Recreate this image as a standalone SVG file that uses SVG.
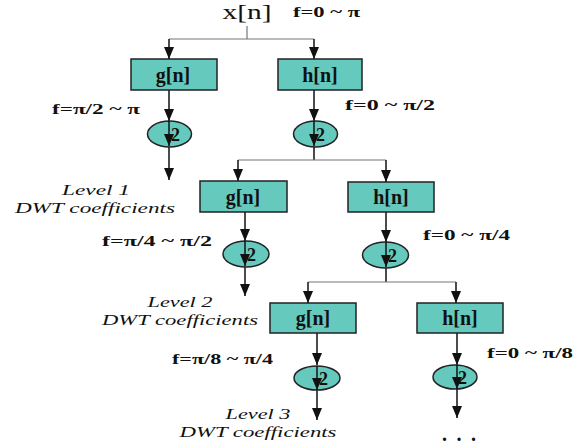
<svg xmlns="http://www.w3.org/2000/svg" width="579" height="446" viewBox="0 0 579 446">
<style>
text{font-family:"Liberation Serif","DejaVu Serif","Times New Roman",serif;fill:#111}
.box{fill:#66C9BE;stroke:#222;stroke-width:1.5}
.ds{fill:#66C9BE;stroke:#222;stroke-width:1.5}
.bt{font-weight:bold;font-size:20px;text-anchor:middle}
.f{font-weight:bold;font-size:14px}
.lv{font-style:italic;font-size:15px;text-anchor:middle}
.two{font-weight:bold;font-size:18px}
.c{fill:none;stroke:#111;stroke-width:1.5}
.h{fill:none;stroke:#777;stroke-width:1.2}
</style>
<defs>
<marker id="a" viewBox="0 0 12 10" refX="12" refY="5" markerWidth="12" markerHeight="10" markerUnits="userSpaceOnUse" orient="auto">
<path d="M0,0 L12,5 L0,10 z" fill="#111"/>
</marker>
</defs>
<rect width="579" height="446" fill="#fff"/>
<g id="connectors">
<path class="h" d="M247,26 V39 M169,39 H314"/>
<path class="c" d="M169,39 V59" marker-end="url(#a)"/>
<path class="c" d="M314,39 V59" marker-end="url(#a)"/>
<path class="c" d="M169,90 V121" marker-end="url(#a)"/>
<path class="c" d="M169,147 V180" marker-end="url(#a)"/>
<path class="c" d="M314,90 V121" marker-end="url(#a)"/>
<path class="c" d="M314,147 V160"/>
<path class="h" d="M238,160 H386"/>
<path class="c" d="M238,160 V181" marker-end="url(#a)"/>
<path class="c" d="M386,160 V182" marker-end="url(#a)"/>
<path class="c" d="M245,212 V241" marker-end="url(#a)"/>
<path class="c" d="M245,267 V296" marker-end="url(#a)"/>
<path class="c" d="M386,212 V242" marker-end="url(#a)"/>
<path class="c" d="M386,268 V282"/>
<path class="h" d="M308,282 H456"/>
<path class="c" d="M308,282 V303" marker-end="url(#a)"/>
<path class="c" d="M456,282 V303" marker-end="url(#a)"/>
<path class="c" d="M317,333 V365" marker-end="url(#a)"/>
<path class="c" d="M317,389 V420" marker-end="url(#a)"/>
<path class="c" d="M457,333 V365" marker-end="url(#a)"/>
<path class="c" d="M457,389 V418" marker-end="url(#a)"/>
</g>
<g id="input">
<text x="247" y="19" font-size="21" text-anchor="middle" textLength="49" lengthAdjust="spacingAndGlyphs">x[n]</text>
<text class="f" x="293" y="17" textLength="67" lengthAdjust="spacingAndGlyphs">f=0 ~ π</text>
</g>
<g id="g1">
<rect class="box" x="131" y="59" width="86" height="31"/>
<text class="bt" x="173" y="82">g[n]</text>
</g>
<g id="h1">
<rect class="box" x="278" y="59" width="84" height="31"/>
<text class="bt" x="320" y="82">h[n]</text>
</g>
<g id="ds1g">
<ellipse class="ds" cx="169.5" cy="134" rx="22" ry="13"/>
<path class="c" d="M169,121 V146" marker-end="url(#a)"/>
<text class="two" x="171" y="141">2</text>
</g>
<g id="ds1h">
<ellipse class="ds" cx="315.5" cy="134" rx="22" ry="13"/>
<path class="c" d="M314,121 V146" marker-end="url(#a)"/>
<text class="two" x="316" y="141">2</text>
</g>
<text class="f" x="52" y="114" textLength="88" lengthAdjust="spacingAndGlyphs">f=π/2 ~ π</text>
<text class="f" x="345" y="110" textLength="90" lengthAdjust="spacingAndGlyphs">f=0 ~ π/2</text>
<g id="level1">
<text class="lv" x="96" y="195" textLength="68" lengthAdjust="spacingAndGlyphs">Level 1</text>
<text class="lv" x="95" y="213" textLength="160" lengthAdjust="spacingAndGlyphs">DWT coefficients</text>
</g>
<g id="g2">
<rect class="box" x="200" y="181" width="87" height="31"/>
<text class="bt" x="243" y="204">g[n]</text>
</g>
<g id="h2">
<rect class="box" x="348" y="182" width="86" height="30"/>
<text class="bt" x="391" y="204">h[n]</text>
</g>
<g id="ds2g">
<ellipse class="ds" cx="246" cy="254" rx="23" ry="13"/>
<path class="c" d="M245,241 V266" marker-end="url(#a)"/>
<text class="two" x="247" y="261">2</text>
</g>
<g id="ds2h">
<ellipse class="ds" cx="385.5" cy="255" rx="23" ry="13"/>
<path class="c" d="M386,242 V267" marker-end="url(#a)"/>
<text class="two" x="388" y="262">2</text>
</g>
<text class="f" x="102" y="246" textLength="110" lengthAdjust="spacingAndGlyphs">f=π/4 ~ π/2</text>
<text class="f" x="423" y="240" textLength="87" lengthAdjust="spacingAndGlyphs">f=0 ~ π/4</text>
<g id="level2">
<text class="lv" x="180" y="307" textLength="65" lengthAdjust="spacingAndGlyphs">Level 2</text>
<text class="lv" x="180" y="325" textLength="156" lengthAdjust="spacingAndGlyphs">DWT coefficients</text>
</g>
<g id="g3">
<rect class="box" x="270" y="303" width="86" height="30"/>
<text class="bt" x="313" y="325">g[n]</text>
</g>
<g id="h3">
<rect class="box" x="417" y="303" width="86" height="30"/>
<text class="bt" x="460" y="325">h[n]</text>
</g>
<g id="ds3g">
<ellipse class="ds" cx="317" cy="378" rx="23" ry="12"/>
<path class="c" d="M317,366 V390" marker-end="url(#a)"/>
<text class="two" x="319" y="385">2</text>
</g>
<g id="ds3h">
<ellipse class="ds" cx="455" cy="377" rx="22" ry="12"/>
<path class="c" d="M457,365 V389" marker-end="url(#a)"/>
<text class="two" x="458" y="384">2</text>
</g>
<text class="f" x="172" y="364" textLength="101" lengthAdjust="spacingAndGlyphs">f=π/8 ~ π/4</text>
<text class="f" x="487" y="358" textLength="86" lengthAdjust="spacingAndGlyphs">f=0 ~ π/8</text>
<g id="level3">
<text class="lv" x="258" y="419" textLength="65" lengthAdjust="spacingAndGlyphs">Level 3</text>
<text class="lv" x="258" y="437" textLength="157" lengthAdjust="spacingAndGlyphs">DWT coefficients</text>
</g>
<text x="459" y="441" font-weight="bold" font-size="20" text-anchor="middle" textLength="34" lengthAdjust="spacing">...</text>
</svg>
